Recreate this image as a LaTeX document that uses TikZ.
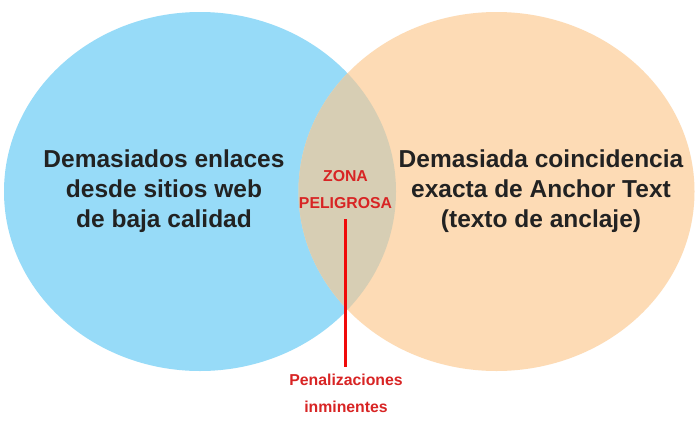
\documentclass[tikz,border=0pt]{standalone}
\usepackage{fontspec}
\setmainfont{Liberation Sans}
\definecolor{vblue}{RGB}{151,219,248}
\definecolor{vpeach}{RGB}{253,219,181}
\definecolor{vover}{RGB}{215,206,180}
\definecolor{vred}{RGB}{216,36,36}
\definecolor{vline}{RGB}{240,10,10}
\definecolor{vtext}{RGB}{34,34,34}
\tikzset{
  maintext/.style={align=center, text=vtext, inner sep=0pt, font=\bfseries\fontsize{24.5}{30}\selectfont},
  redtext/.style={align=center, text=vred, inner sep=0pt, font=\bfseries\fontsize{15.8}{27}\selectfont},
  redline/.style={draw=vline, line width=3pt}
}
\begin{document}
\begin{tikzpicture}[x=1pt,y=-1pt]
\useasboundingbox (0,0) rectangle (700,434);
\fill[white] (0,0) rectangle (700,434);
\fill[vblue] (200,191.5) ellipse [x radius=196, y radius=179.5];
\fill[vpeach] (496.5,191.5) ellipse [x radius=198, y radius=179.5];
\begin{scope}
  \clip (200,191.5) ellipse [x radius=196, y radius=179.5];
  \fill[vover] (496.5,191.5) ellipse [x radius=198, y radius=179.5];
\end{scope}
\node[maintext, anchor=base] (left) at (164,227) {Demasiados enlaces\\desde sitios web\\de baja calidad};
\node[maintext, anchor=base] (right) at (541,227) {Demasiada coincidencia\\exacta de Anchor Text\\(texto de anclaje)};
\node[redtext, anchor=base] (zona) at (345.5,208) {ZONA\\PELIGROSA};
\node[redtext, anchor=base] (pen) at (346,412) {Penalizaciones\\inminentes};
\coordinate (lt) at (345.5,219);
\coordinate (lb) at (345.5,367);
\draw[redline] (lt) -- (lb);
\end{tikzpicture}
\end{document}
